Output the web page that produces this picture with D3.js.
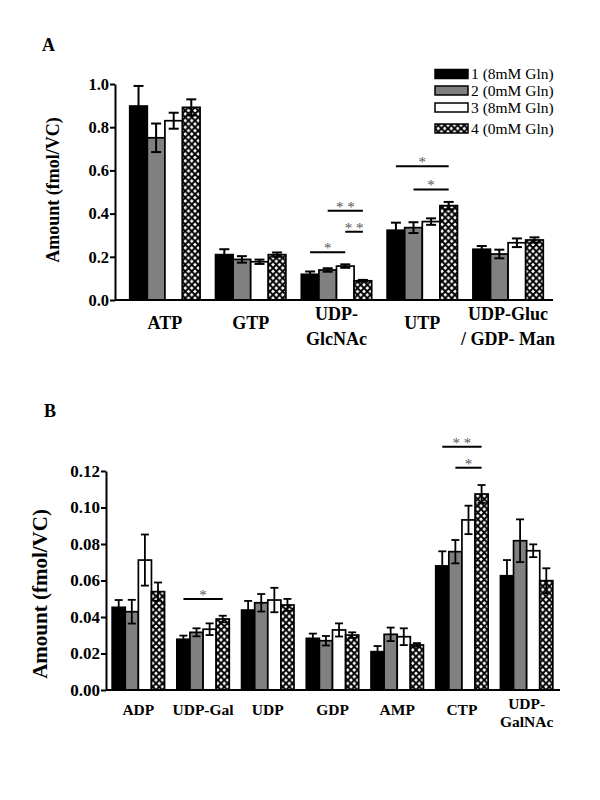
<!DOCTYPE html>
<html>
<head>
<meta charset="utf-8">
<script src="https://cdn.jsdelivr.net/npm/d3@7"></script>
<style>
  body { margin: 0; background: #fff; }
  text { font-family: "Liberation Serif", "Times New Roman", serif; }
</style>
</head>
<body>
<div id="chart"></div>
<script>
// ---- data ----
const seriesNames = ["1 (8mM Gln)", "2 (0mM Gln)", "3 (8mM Gln)", "4 (0mM Gln)"];

const catsA = ["ATP", "GTP", "UDP-GlcNAc", "UTP", "UDP-Gluc / GDP- Man"];
const labelsA = [["ATP"], ["GTP"], ["UDP-", "GlcNAc"], ["UTP"], ["UDP-Gluc", "/ GDP- Man"]];
const meanA = [
    [0.898, 0.751, 0.830, 0.892],
    [0.210, 0.188, 0.177, 0.210],
    [0.119, 0.139, 0.157, 0.089],
    [0.323, 0.335, 0.363, 0.437],
    [0.235, 0.213, 0.265, 0.278]
];
const errA = [
    [0.093, 0.066, 0.037, 0.037],
    [0.025, 0.015, 0.010, 0.010],
    [0.013, 0.008, 0.008, 0.004],
    [0.035, 0.025, 0.015, 0.017],
    [0.015, 0.020, 0.020, 0.012]
];
const ticksA = [0, 0.2, 0.4, 0.6, 0.8, 1.0];
const sigA = [
    { cat: "UDP-GlcNAc", from: 0, to: 2, y: 0.221, label: "*" },
    { cat: "UDP-GlcNAc", from: 1, to: 3, y: 0.413, label: "**" },
    { cat: "UDP-GlcNAc", from: 2, to: 3, y: 0.316, label: "**" },
    { cat: "UTP", from: 0, to: 3, y: 0.619, label: "*" },
    { cat: "UTP", from: 1, to: 3, y: 0.512, label: "*" }
];

const catsB = ["ADP", "UDP-Gal", "UDP", "GDP", "AMP", "CTP", "UDP-GalNAc"];
const labelsB = [["ADP"], ["UDP-Gal"], ["UDP"], ["GDP"], ["AMP"], ["CTP"], ["UDP-", "GalNAc"]];
const meanB = [
    [0.0453, 0.0429, 0.0712, 0.0539],
    [0.0278, 0.0316, 0.0333, 0.0389],
    [0.0438, 0.0478, 0.0493, 0.0466],
    [0.0283, 0.0270, 0.0329, 0.0301],
    [0.0210, 0.0305, 0.0292, 0.0247],
    [0.0680, 0.0758, 0.0932, 0.1074],
    [0.0626, 0.0818, 0.0763, 0.0599]
];
const errB = [
    [0.0040, 0.0065, 0.0140, 0.0050],
    [0.0020, 0.0022, 0.0032, 0.0018],
    [0.0050, 0.0048, 0.0067, 0.0033],
    [0.0026, 0.0026, 0.0036, 0.0015],
    [0.0031, 0.0037, 0.0046, 0.0010],
    [0.0080, 0.0064, 0.0078, 0.0049],
    [0.0086, 0.0117, 0.0035, 0.0068]
];
const ticksB = [0, 0.02, 0.04, 0.06, 0.08, 0.10, 0.12];
const sigB = [
    { cat: "UDP-Gal", from: 0, to: 3, y: 0.0499, label: "*" },
    { cat: "CTP", from: 0, to: 3, y: 0.1333, label: "**" },
    { cat: "CTP", from: 1, to: 3, y: 0.1218, label: "*" }
];

// ---- drawing ----
const width = 600, height = 800;
const fills = ["#000", "#808080", "#fff", "url(#xhatch)"];

const svg = d3.select("#chart").append("svg")
    .attr("width", width)
    .attr("height", height);

svg.append("rect").attr("width", width).attr("height", height).attr("fill", "#fff");

// cross-hatch: black X lines, white diamonds between
const pw = 6.5, ph = 6.7;
const pat = svg.append("defs").append("pattern")
    .attr("id", "xhatch")
    .attr("patternUnits", "userSpaceOnUse")
    .attr("width", pw).attr("height", ph);
pat.append("rect").attr("width", pw).attr("height", ph).attr("fill", "#fff");
pat.append("path")
    .attr("d", `M0,0L${pw},${ph}M${pw},0L0,${ph}`)
    .attr("stroke", "#000").attr("stroke-width", 1.9)
    .attr("stroke-linecap", "square");

function drawPanel(p) {
    const g = svg.append("g");
    const y = d3.scaleLinear().domain([0, p.yMax]).range([p.bottom, p.top]);
    const x0 = d3.scaleBand().domain(p.cats).range(p.xRange)
        .paddingInner(p.pad).paddingOuter(p.pad / 2);
    const x1 = d3.scaleBand().domain(d3.range(seriesNames.length)).range([0, x0.bandwidth()]);

    const rows = [];
    p.cats.forEach((c, i) => p.mean[i].forEach((v, j) => rows.push({ cat: c, s: j, v: v, e: p.err[i][j] })));

    g.selectAll("rect.bar")
        .data(rows)
        .enter().append("rect")
        .attr("class", "bar")
        .attr("x", d => x0(d.cat) + x1(d.s))
        .attr("width", x1.bandwidth())
        .attr("y", d => y(d.v))
        .attr("height", d => y(0) - y(d.v))
        .attr("fill", d => fills[d.s])
        .attr("stroke", "#000")
        .attr("stroke-width", 1.7);

    // error bars
    const eb = g.selectAll("g.err").data(rows).enter().append("g")
        .attr("stroke", "#000").attr("stroke-width", p.errW);
    const cx = d => x0(d.cat) + x1(d.s) + x1.bandwidth() / 2;
    eb.append("line")
        .attr("x1", cx).attr("x2", cx)
        .attr("y1", d => y(d.v - d.e)).attr("y2", d => y(d.v + d.e));
    eb.append("line")
        .attr("x1", d => cx(d) - p.cap).attr("x2", d => cx(d) + p.cap)
        .attr("y1", d => y(d.v + d.e)).attr("y2", d => y(d.v + d.e));
    eb.append("line")
        .attr("x1", d => cx(d) - p.cap).attr("x2", d => cx(d) + p.cap)
        .attr("y1", d => y(d.v - d.e)).attr("y2", d => y(d.v - d.e));

    // axes
    const yAxis = g.append("g")
        .attr("transform", `translate(${p.axisX},0)`)
        .call(d3.axisLeft(y).tickValues(p.ticks).tickFormat(d3.format(p.fmt)).tickSize(5).tickSizeOuter(0));
    yAxis.select(".domain").attr("stroke-width", 2);
    yAxis.selectAll(".tick line").attr("stroke-width", 2);
    yAxis.selectAll(".tick text")
        .attr("x", -6)
        .attr("font-size", p.tickFont)
        .attr("font-weight", "bold")
        .attr("font-family", '"Liberation Serif","Times New Roman",serif')
        .attr("fill", "#000");

    g.append("line")
        .attr("x1", p.axisX).attr("x2", p.xEnd)
        .attr("y1", y(0)).attr("y2", y(0))
        .attr("stroke", "#000").attr("stroke-width", 2);

    // category labels
    p.cats.forEach((c, i) => {
        const lines = p.labels[i];
        const t = g.append("text")
            .attr("text-anchor", "middle")
            .attr("font-weight", "bold")
            .attr("font-size", p.labFont)
            .attr("fill", "#000");
        lines.forEach((s, k) => {
            t.append("tspan")
                .attr("x", x0(c) + x0.bandwidth() / 2)
                .attr("y", lines.length === 1 ? p.labY1 : p.labY2[k])
                .text(s);
        });
    });

    // significance markers
    p.sig.forEach(s => {
        const xa = x0(s.cat) + x1(s.from) + x1.bandwidth() / 2;
        const xb = x0(s.cat) + x1(s.to) + x1.bandwidth() / 2;
        g.append("line")
            .attr("x1", xa).attr("x2", xb)
            .attr("y1", y(s.y)).attr("y2", y(s.y))
            .attr("stroke", "#000").attr("stroke-width", 2);
        g.append("text")
            .attr("x", (xa + xb) / 2)
            .attr("y", y(s.y) + 1)
            .attr("text-anchor", "middle")
            .attr("font-size", 15)
            .attr("fill", "#555")
            .text(s.label.split("").join(" "));
    });

    // y title
    g.append("text")
        .attr("transform", `translate(${p.titleX},${p.titleY}) rotate(-90)`)
        .attr("text-anchor", "middle")
        .attr("dy", "0.35em")
        .attr("font-weight", "bold")
        .attr("font-size", p.titleFont)
        .attr("fill", "#000")
        .text("Amount (fmol/VC)");

    // panel letter
    g.append("text")
        .attr("x", p.letterX).attr("y", p.letterY)
        .attr("font-weight", "bold")
        .attr("font-size", 18)
        .attr("fill", "#000")
        .text(p.letter);
}

drawPanel({
    letter: "A", letterX: 42, letterY: 51,
    cats: catsA, labels: labelsA, mean: meanA, err: errA, ticks: ticksA, sig: sigA,
    yMax: 1.0, top: 84, bottom: 300, fmt: ".1f",
    xRange: [122, 551], pad: 0.18, axisX: 115, xEnd: 553,
    cap: 5, errW: 2, tickFont: 16.5, labFont: 18,
    labY1: 329, labY2: [320, 345],
    titleX: 53, titleY: 190, titleFont: 18
});

drawPanel({
    letter: "B", letterX: 44, letterY: 417,
    cats: catsB, labels: labelsB, mean: meanB, err: errB, ticks: ticksB, sig: sigB,
    yMax: 0.12, top: 471, bottom: 690, fmt: ".2f",
    xRange: [106, 559], pad: 0.19, axisX: 106, xEnd: 560,
    cap: 4, errW: 1.8, tickFont: 17, labFont: 15.5,
    labY1: 715, labY2: [709, 727],
    titleX: 40, titleY: 594, titleFont: 21
});

// legend (panel A)
const legendRowY = [74, 90.5, 107.5, 128.5];
const legend = svg.append("g").selectAll("g")
    .data(seriesNames)
    .enter().append("g")
    .attr("transform", (d, i) => `translate(435,${legendRowY[i]})`);
legend.append("rect")
    .attr("x", 0).attr("y", -4.5)
    .attr("width", 33).attr("height", 9)
    .attr("fill", (d, i) => fills[i])
    .attr("stroke", "#000").attr("stroke-width", 1.5);
legend.append("text")
    .attr("x", 36).attr("y", 5)
    .attr("font-size", 15.5)
    .attr("fill", "#000")
    .text(d => d);
</script>
</body>
</html>
